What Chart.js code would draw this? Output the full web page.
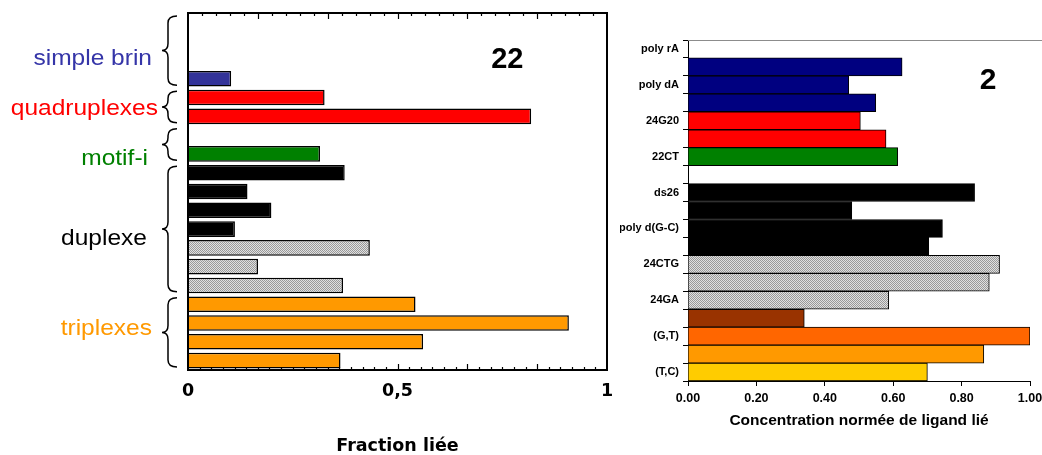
<!DOCTYPE html>
<html>
<head>
<meta charset="utf-8">
<script src="https://cdn.jsdelivr.net/npm/chart.js@4.4.1/dist/chart.umd.min.js"></script>
<style>
  html, body { margin: 0; padding: 0; background: #fff; }
  #wrap { position: relative; width: 1042px; height: 455px; }
  .panel { position: absolute; top: 0; height: 455px; }
  #leftPanel  { left: 0;     width: 620px; }
  #rightPanel { left: 620px; width: 422px; }
</style>
</head>
<body>
<div id="wrap">
  <div class="panel" id="leftPanel"><canvas id="leftChart"></canvas></div>
  <div class="panel" id="rightPanel"><canvas id="rightChart"></canvas></div>
</div>
<script>
// left panel: compound 22, bound fraction (rows top to bottom, null = empty slot)
const LEFT_ROWS   = ['e0','e1','e2','ss','q1','q2','e6','i1','d1','d2','d3','d4','d5','d6','d7','t1','t2','t3','t4'];
const LEFT_VALUES = [null, null, null, 0.103, 0.326, 0.819, null, 0.315, 0.374, 0.142, 0.199, 0.112, 0.434, 0.167, 0.370, 0.543, 0.909, 0.561, 0.364];
const LEFT_KINDS  = [null, null, null, 'ss', 'g4', 'g4', null, 'im', 'ds', 'ds', 'ds', 'ds', 'dsx', 'dsx', 'dsx', 'tx', 'tx', 'tx', 'tx'];
const LEFT_X_TICKS  = [0, 0.5, 1];
const LEFT_X_LABELS = ['0', '0,5', '1'];

const GROUP_NAMES = ['simple brin', 'quadruplexes', 'motif-i', 'duplexe', 'triplexes'];
const GROUP_FIRST = [0, 4, 6, 8, 15];
const GROUP_LAST  = [3, 5, 7, 14, 18];

// right panel: compound 2, normalised bound ligand
const RIGHT_ROWS   = ['poly rA','','poly dA','','24G20','','22CT','','ds26','','poly d(G-C)','','24CTG','','24GA','','(G,T)','','(T,C)'];
const RIGHT_VALUES = [null, 0.626, 0.470, 0.549, 0.504, 0.579, 0.613, null, 0.838, 0.479, 0.744, 0.704, 0.911, 0.881, 0.587, 0.340, 1.00, 0.865, 0.700];
const RIGHT_KINDS  = [null, 'rA', 'rA', 'rA', 'g4', 'g4', 'im', null, 'ds', 'ds', 'ds', 'ds', 'dsx', 'dsx', 'dsx', 't1', 't2', 't3', 't4'];
const RIGHT_X_TICKS = [0, 0.2, 0.4, 0.6, 0.8, 1.0];

// styles
const FONT  = '"Liberation Sans", Arial, sans-serif';
const WIDE  = '"DejaVu Sans", Verdana, sans-serif';
const LEFT_COLORS  = { ss: '#333399', g4: '#ff0000', im: '#008000', ds: '#000000', tx: '#ff9900' };
const RIGHT_COLORS = { rA: '#000080', g4: '#ff0000', im: '#008000', ds: '#000000',
                       t1: '#993300', t2: '#ff6600', t3: '#ff9900', t4: '#ffcc00' };
const GROUP_COLORS = ['#3535a8', '#ff0000', '#008000', '#000000', '#ff9900'];
const GROUP_LABEL_AT    = [2.26, 4.92, 7.58, 11.86, 16.62]; // baseline, in row units
const GROUP_LABEL_RIGHT = [152, 158, 148, 147, 152];

function dotPattern() {
  const c = document.createElement('canvas');
  c.width = 2; c.height = 2;
  const g = c.getContext('2d');
  g.fillStyle = '#e0e0e0';
  g.fillRect(0, 0, 2, 2);
  g.fillStyle = '#999999';
  g.fillRect(0, 0, 1, 1);
  g.fillRect(1, 1, 1, 1);
  return g.createPattern(c, 'repeat');
}
const GREY = dotPattern();

function colorFor(map, k) {
  if (k === 'dsx') return GREY;
  return map[k] || 'rgba(0,0,0,0)';
}

function brace(ctx, xs, y0, y1) {
  const ym = (y0 + y1) / 2, tip = 9, cusp = 6, r = 7;
  ctx.beginPath();
  ctx.moveTo(xs + tip, y0);
  ctx.quadraticCurveTo(xs, y0, xs, y0 + r);
  ctx.lineTo(xs, ym - r);
  ctx.quadraticCurveTo(xs, ym, xs - cusp, ym);
  ctx.quadraticCurveTo(xs, ym, xs, ym + r);
  ctx.lineTo(xs, y1 - r);
  ctx.quadraticCurveTo(xs, y1, xs + tip, y1);
  ctx.stroke();
}

// keep tick label overflow from shrinking the plot area
function noEdgePadding(s, h) {
  s.height = h;
  s.paddingLeft = 0;
  s.paddingRight = 0;
}

const leftDecor = {
  id: 'leftDecor',
  beforeDatasetsDraw(chart) {
    const {ctx, chartArea: a, scales: {x}} = chart;
    ctx.save();
    ctx.strokeStyle = '#000';
    ctx.lineWidth = 1.2;
    // top edge ticks (pointing down)
    for (let i = 1; i < 30; i++) {
      const px = Math.round(x.getPixelForValue(i / 30)) + 0.5;
      const len = i % 5 === 0 ? 6 : 3;
      ctx.beginPath(); ctx.moveTo(px, a.top); ctx.lineTo(px, a.top + len); ctx.stroke();
    }
    // bottom edge ticks (pointing up)
    for (let i = 1; i < 36; i++) {
      const px = Math.round(x.getPixelForValue(i / 36)) + 0.5;
      const len = i % 6 === 0 ? 6 : 3;
      ctx.beginPath(); ctx.moveTo(px, a.bottom); ctx.lineTo(px, a.bottom - len); ctx.stroke();
    }
    ctx.restore();
  },
  afterDatasetsDraw(chart) {
    const {ctx, chartArea: a, scales: {y}} = chart;
    ctx.save();
    ctx.strokeStyle = '#000';
    ctx.lineWidth = 2;
    ctx.strokeRect(a.left, a.top, a.right - a.left, a.bottom - a.top);

    // braces + group names
    const half = (y.getPixelForValue(1) - y.getPixelForValue(0)) / 2;
    ctx.lineWidth = 1.5;
    GROUP_NAMES.forEach((name, i) => {
      const y0 = y.getPixelForValue(GROUP_FIRST[i]) - half + 3;
      const y1 = y.getPixelForValue(GROUP_LAST[i]) + half - 3;
      brace(ctx, 168, y0, y1);
      ctx.save();
      ctx.translate(GROUP_LABEL_RIGHT[i], y.getPixelForValue(GROUP_LABEL_AT[i]));
      ctx.scale(1.09, 1);
      ctx.fillStyle = GROUP_COLORS[i];
      ctx.font = '22.5px ' + FONT;
      ctx.textAlign = 'right';
      ctx.textBaseline = 'alphabetic';
      ctx.fillText(name, 0, 0);
      ctx.restore();
    });

    ctx.fillStyle = '#000';
    ctx.font = 'bold 29px ' + FONT;
    ctx.textAlign = 'center';
    ctx.fillText('22', a.left + 0.762 * (a.right - a.left), 68);
    ctx.restore();
  }
};

const rightDecor = {
  id: 'rightDecor',
  afterDraw(chart) {
    const {ctx, chartArea: a} = chart;
    ctx.save();
    ctx.strokeStyle = '#8c8c8c';
    ctx.lineWidth = 1;
    ctx.beginPath();
    ctx.moveTo(a.left, a.top + 0.5);
    ctx.lineTo(chart.width, a.top + 0.5);
    ctx.stroke();
    ctx.fillStyle = '#000';
    ctx.font = 'bold 30px ' + FONT;
    ctx.textAlign = 'center';
    ctx.fillText('2', 368, 89);
    ctx.restore();
  }
};

new Chart(document.getElementById('leftChart'), {
  type: 'bar',
  data: {
    labels: LEFT_ROWS,
    datasets: [{
      data: LEFT_VALUES,
      backgroundColor: LEFT_KINDS.map(k => colorFor(LEFT_COLORS, k)),
      borderColor: '#000',
      borderWidth: 1.5,
      barPercentage: 0.83,
      categoryPercentage: 1
    }]
  },
  options: {
    indexAxis: 'y',
    responsive: true,
    maintainAspectRatio: false,
    animation: false,
    layout: { padding: { left: 188, right: 13, top: 13, bottom: 0 } },
    plugins: { legend: { display: false }, tooltip: { enabled: false } },
    scales: {
      x: {
        min: 0, max: 1,
        afterBuildTicks: s => { s.ticks = LEFT_X_TICKS.map(v => ({ value: v })); },
        afterFit: s => noEdgePadding(s, 85),
        grid: { display: false, drawTicks: false },
        border: { display: false },
        ticks: {
          color: '#000', padding: 11, maxRotation: 0,
          font: { family: WIDE, size: 17.5, weight: 'bold' },
          callback: (v, i) => LEFT_X_LABELS[i]
        },
        title: {
          display: true, text: 'Fraction liée', color: '#000',
          font: { family: WIDE, size: 17.5, weight: 'bold', lineHeight: 1 },
          padding: { top: 0, bottom: 0 }
        }
      },
      y: { display: false }
    }
  },
  plugins: [leftDecor]
});

new Chart(document.getElementById('rightChart'), {
  type: 'bar',
  data: {
    labels: RIGHT_ROWS,
    datasets: [{
      data: RIGHT_VALUES,
      backgroundColor: RIGHT_KINDS.map(k => colorFor(RIGHT_COLORS, k)),
      borderColor: '#000',
      borderWidth: 1,
      barPercentage: 1,
      categoryPercentage: 1
    }]
  },
  options: {
    indexAxis: 'y',
    responsive: true,
    maintainAspectRatio: false,
    animation: false,
    layout: { padding: { left: 0, right: 12, top: 40, bottom: 0 } },
    plugins: { legend: { display: false }, tooltip: { enabled: false } },
    scales: {
      x: {
        min: 0, max: 1,
        afterBuildTicks: s => { s.ticks = RIGHT_X_TICKS.map(v => ({ value: v })); },
        afterFit: s => noEdgePadding(s, 74),
        grid: { drawOnChartArea: false, drawTicks: true, tickLength: 5, color: '#000' },
        border: { color: '#000', width: 1 },
        ticks: {
          color: '#000', padding: 5, maxRotation: 0,
          font: { family: FONT, size: 12.5, weight: 'bold' },
          callback: v => Number(v).toFixed(2)
        },
        title: {
          display: true, text: 'Concentration normée de ligand lié', color: '#000',
          font: { family: FONT, size: 15.5, weight: 'bold' },
          padding: { top: 0, bottom: 25 }
        }
      },
      y: {
        afterFit: s => { s.width = 68; },
        grid: { drawOnChartArea: false, tickLength: 5, color: '#000' },
        border: { color: '#000', width: 1 },
        ticks: {
          autoSkip: false, color: '#000', padding: 4,
          font: { family: FONT, size: 11, weight: 'bold' }
        }
      }
    }
  },
  plugins: [rightDecor]
});
</script>
</body>
</html>
